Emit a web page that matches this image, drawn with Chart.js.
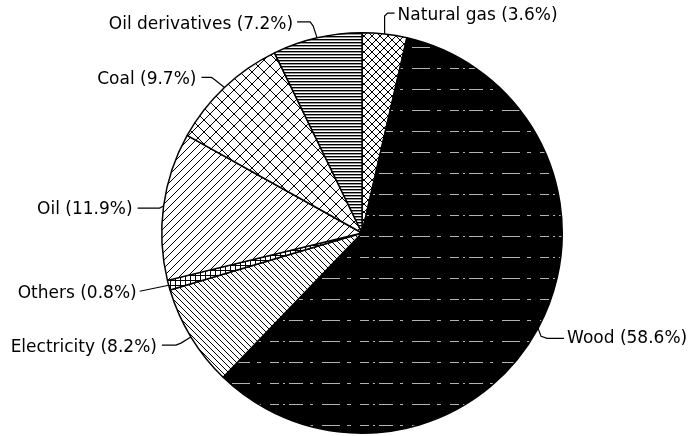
<!DOCTYPE html>
<html>
<head>
<meta charset="utf-8">
<script src="https://cdn.jsdelivr.net/npm/chart.js@4/dist/chart.umd.min.js"></script>
<style>
  body { margin: 0; background: #fff; }
  #wrap { width: 691px; height: 436px; position: relative; }
</style>
</head>
<body>
<div id="wrap"><canvas id="pieChart"></canvas></div>
<script>
// Energy sources, clockwise from 12 o'clock
const categories = ['Natural gas', 'Wood', 'Electricity', 'Others', 'Oil', 'Coal', 'Oil derivatives'];
const shares = [3.6, 58.6, 8.2, 0.8, 11.9, 9.7, 7.2];

// Leader line shapes, relative to the point on the rim at mid-slice
const leaders = [
  { pts: [[0, 0], [0, -18], [3, -21], [10, -21]], text: [13, -18], align: 'left' },
  { pts: [[0, 0], [3, 8], [9, 10], [26, 10]], text: [29, 10], align: 'left' },
  { pts: [[0, 0], [-10, 6], [-15, 8], [-29, 8]], text: [-34, 10], align: 'right' },
  { pts: [[0, 0], [-29, 6]], text: [-32, 8], align: 'right' },
  { pts: [[0, 0], [-4, 2], [-26, 2]], text: [-31, 4], align: 'right' },
  { pts: [[0, 0], [-10, -8], [-13, -10], [-23, -10]], text: [-28, -8], align: 'right' },
  { pts: [[0, 0], [-4, -12], [-7, -16], [-20, -16]], text: [-24, -13], align: 'right' }
];

// --- hatch patterns ---
function makeTile(w, h, draw) {
  const c = document.createElement('canvas');
  c.width = w; c.height = h;
  const g = c.getContext('2d');
  draw(g, w, h);
  return document.createElement('canvas').getContext('2d').createPattern(c, 'repeat');
}

function diagLines(g, s, dir) {
  g.strokeStyle = '#000';
  g.lineWidth = 1;
  g.beginPath();
  if (dir > 0) { // "/"
    g.moveTo(-1, s + 1); g.lineTo(s + 1, -1);
    g.moveTo(-1, 1); g.lineTo(1, -1);
    g.moveTo(s - 1, s + 1); g.lineTo(s + 1, s - 1);
  } else { // "\"
    g.moveTo(-1, -1); g.lineTo(s + 1, s + 1);
    g.moveTo(s - 1, -1); g.lineTo(s + 1, 1);
    g.moveTo(-1, s - 1); g.lineTo(1, s + 1);
  }
  g.stroke();
}

function whiteBg(g, w, h) {
  g.fillStyle = '#fff';
  g.fillRect(0, 0, w, h);
}

const patNaturalGas = makeTile(8, 8, (g, w, h) => { whiteBg(g, w, h); diagLines(g, 8, 1); diagLines(g, 8, -1); });
const patCoal = makeTile(12, 12, (g, w, h) => { whiteBg(g, w, h); diagLines(g, 12, 1); diagLines(g, 12, -1); });
const patOil = makeTile(8, 8, (g, w, h) => { whiteBg(g, w, h); diagLines(g, 8, 1); });
const patElectricity = makeTile(6, 6, (g, w, h) => { whiteBg(g, w, h); diagLines(g, 6, -1); });
const patOthers = makeTile(5, 5, (g, w, h) => {
  whiteBg(g, w, h);
  g.fillStyle = '#000';
  g.fillRect(0, 0, w, 1);
  g.fillRect(0, 0, 1, h);
});
const patOilDeriv = makeTile(8, 3, (g, w, h) => {
  whiteBg(g, w, h);
  g.fillStyle = '#000';
  g.fillRect(0, 0, w, 1.4);
});
// black with faint broken white lines
const patWood = makeTile(90, 21, (g, w, h) => {
  g.fillStyle = '#000';
  g.fillRect(0, 0, w, h);
  g.fillStyle = 'rgba(255,255,255,0.7)';
  [[0, 9], [13, 2], [19, 14], [40, 3], [52, 18], [77, 4]].forEach(d => g.fillRect(d[0], 5, d[1], 1));
});

const fills = [patNaturalGas, patWood, patElectricity, patOthers, patOil, patCoal, patOilDeriv];

// draws the outside labels and their leader lines
const leaderLabels = {
  id: 'leaderLabels',
  afterDraw(chart) {
    const ctx = chart.ctx;
    const meta = chart.getDatasetMeta(0);
    ctx.save();
    ctx.strokeStyle = '#000';
    ctx.lineWidth = 1.2;
    ctx.fillStyle = '#000';
    ctx.font = '17px "DejaVu Sans", sans-serif';
    ctx.textBaseline = 'middle';
    meta.data.forEach((arc, i) => {
      const p = arc.getProps(['x', 'y', 'startAngle', 'endAngle', 'outerRadius'], true);
      const mid = (p.startAngle + p.endAngle) / 2;
      const ex = p.x + Math.cos(mid) * p.outerRadius;
      const ey = p.y + Math.sin(mid) * p.outerRadius;
      const L = leaders[i];
      ctx.beginPath();
      L.pts.forEach((pt, j) => {
        if (j === 0) ctx.moveTo(ex + pt[0], ey + pt[1]);
        else ctx.lineTo(ex + pt[0], ey + pt[1]);
      });
      ctx.stroke();
      ctx.textAlign = L.align;
      ctx.fillText(categories[i] + ' (' + shares[i].toFixed(1) + '%)', ex + L.text[0], ey + L.text[1]);
    });
    ctx.restore();
  }
};

new Chart(document.getElementById('pieChart'), {
  type: 'pie',
  data: {
    labels: categories,
    datasets: [{
      data: shares,
      backgroundColor: fills,
      borderColor: '#000',
      borderWidth: 1.5
    }]
  },
  options: {
    responsive: true,
    maintainAspectRatio: false,
    animation: false,
    layout: { padding: { left: 161, right: 128, top: 32, bottom: 2 } },
    plugins: {
      legend: { display: false },
      tooltip: { enabled: false }
    }
  },
  plugins: [leaderLabels]
});
</script>
</body>
</html>
